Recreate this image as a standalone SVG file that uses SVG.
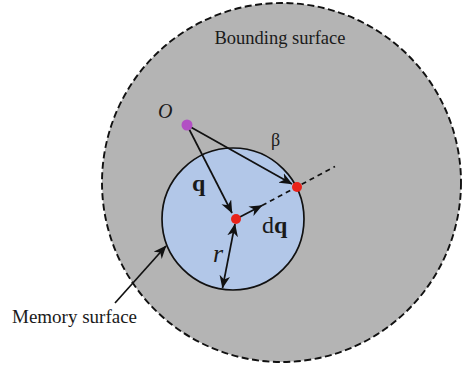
<svg xmlns="http://www.w3.org/2000/svg" width="464" height="366" viewBox="0 0 464 366">
<defs>
<style>
.lbl{font-family:"Liberation Serif","Times New Roman",serif;fill:#1a1a1a}
.ln{stroke:#111;stroke-width:1.7;fill:none}
</style>
<marker id="ah" viewBox="0 0 12 10" refX="11.5" refY="5" markerWidth="13" markerHeight="11" markerUnits="userSpaceOnUse" orient="auto-start-reverse">
<path d="M0,0 L12,5 L0,10 L3.5,5 Z" fill="#111"/>
</marker>
</defs>
<rect width="464" height="366" fill="#fff"/>
<g id="bounding">
<circle cx="281.5" cy="182.5" r="179.5" fill="#b4b4b4" stroke="#111" stroke-width="1.9" stroke-dasharray="7 3.5"/>
<text class="lbl" x="280" y="44" font-size="18.5" text-anchor="middle">Bounding surface</text>
</g>
<g id="memory">
<circle cx="233" cy="219" r="71" fill="#b2c7e8" stroke="#111" stroke-width="1.7"/>
</g>
<g id="connectors">
<line class="ln" x1="187" y1="125" x2="232" y2="213" marker-end="url(#ah)"/>
<line class="ln" x1="187" y1="125" x2="292" y2="184" marker-end="url(#ah)"/>
<line class="ln" x1="236" y1="219" x2="262" y2="205.5" marker-end="url(#ah)"/>
<line class="ln" x1="262" y1="205.5" x2="335" y2="166.5" stroke-dasharray="5 4"/>
<line class="ln" x1="235" y1="224" x2="222.5" y2="288" marker-start="url(#ah)" marker-end="url(#ah)"/>
<line class="ln" x1="115" y1="303" x2="166" y2="246" marker-end="url(#ah)"/>
</g>
<g id="origin">
<circle cx="187" cy="125" r="5.5" fill="#b24fc4"/>
<text class="lbl" x="158" y="118" font-size="20" font-style="italic">O</text>
</g>
<g id="center">
<circle cx="236" cy="219" r="5" fill="#e8221a"/>
</g>
<g id="point">
<circle cx="297" cy="187" r="5" fill="#e8221a"/>
</g>
<text class="lbl" x="271" y="146" font-size="18">β</text>
<text class="lbl" x="192" y="191" font-size="24" font-weight="bold">q</text>
<text class="lbl" x="262" y="233" font-size="24">d<tspan font-weight="bold">q</tspan></text>
<text class="lbl" x="213" y="262" font-size="26" font-style="italic">r</text>
<g id="memory-label">
<text class="lbl" x="12" y="323" font-size="19">Memory surface</text>
</g>
</svg>
